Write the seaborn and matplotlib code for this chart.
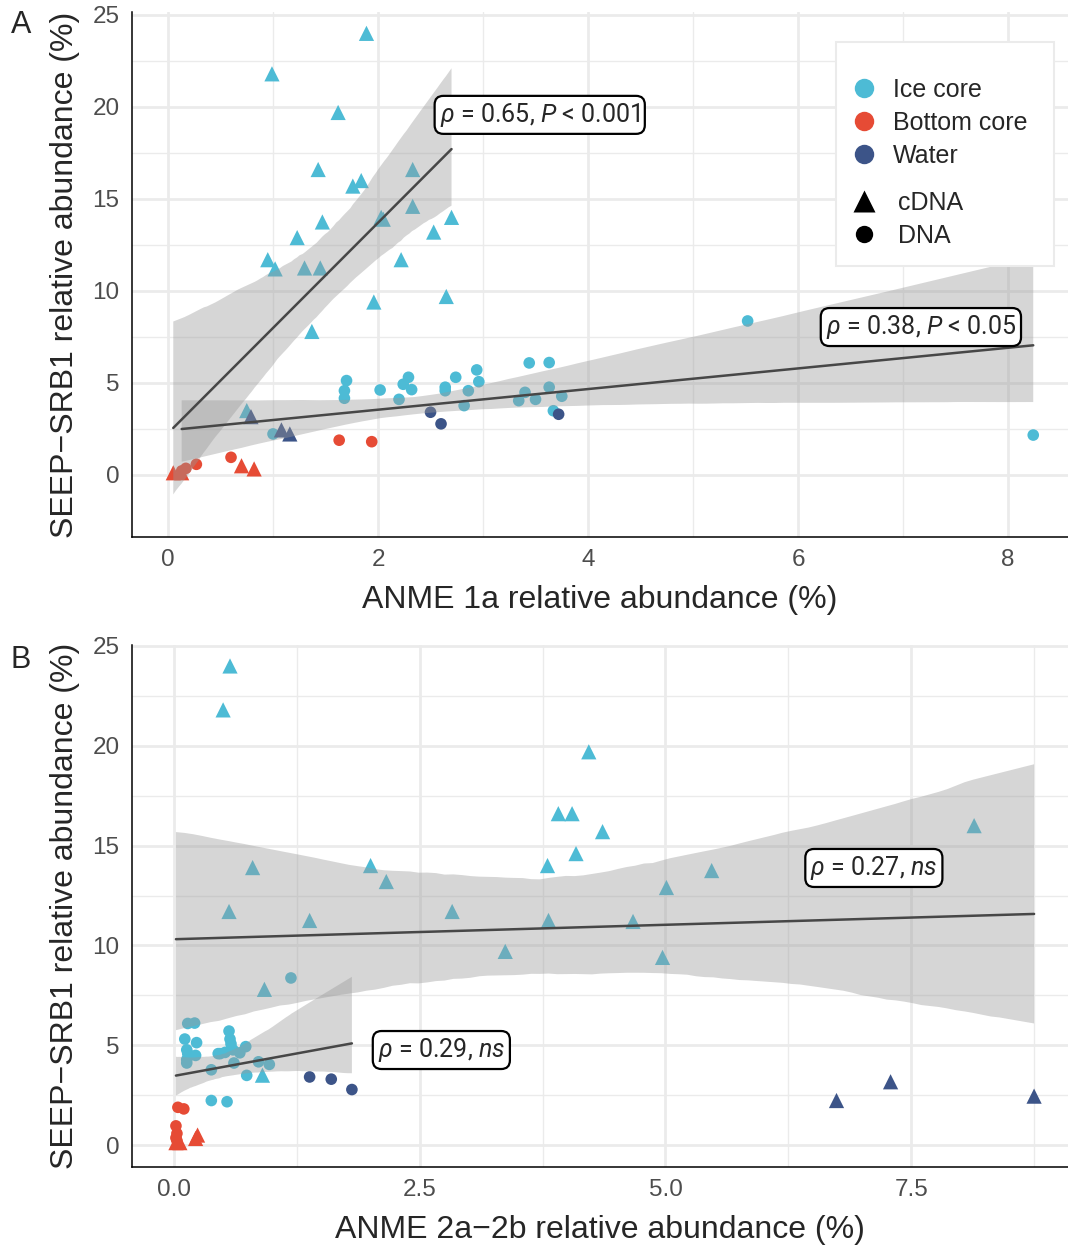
import matplotlib
matplotlib.use('Agg')
import matplotlib.pyplot as plt
from matplotlib.lines import Line2D
from matplotlib.patches import FancyBboxPatch
import numpy as np
import pandas as pd
import seaborn as sns

# ---- data: SEEP-SRB1 vs ANME 1a / ANME 2a-2b (relative abundance, %) ----
ice_cdna_anme1a = [1.89, 0.99, 1.62, 1.43, 2.33, 1.84, 1.76, 2.33, 2.70, 2.03, 2.05, 1.47,
                   2.53, 1.23, 0.95, 2.22, 1.30, 1.45, 1.02, 2.65, 1.96, 1.37, 0.75]
ice_cdna_anme2ab = [0.57, 0.50, 4.22, 3.91, 4.05, 8.14, 4.36, 4.09, 3.80, 2.00, 0.80, 5.47,
                    2.16, 5.01, 0.56, 2.83, 1.38, 3.81, 4.67, 3.37, 4.97, 0.92, 0.90]
ice_cdna_srb = [24.0, 21.8, 19.7, 16.6, 16.6, 16.0, 15.7, 14.6, 14.0, 14.0, 13.9, 13.75,
                13.2, 12.9, 11.7, 11.7, 11.25, 11.25, 11.2, 9.7, 9.4, 7.8, 3.5]

ice_dna_anme1a = [5.52, 3.63, 3.44, 2.94, 2.29, 2.74, 1.70, 2.96, 2.24, 2.64, 3.63, 2.32, 2.02,
                  1.68, 2.64, 2.86, 3.40, 3.75, 1.68, 2.20, 3.50, 3.34, 2.82, 3.67, 1.00, 8.24]
ice_dna_anme2ab = [1.19, 0.21, 0.14, 0.56, 0.11, 0.57, 0.23, 0.58, 0.73, 0.13, 0.60, 0.52, 0.67,
                   0.45, 0.47, 0.14, 0.22, 0.13, 0.86, 0.13, 0.61, 0.97, 0.38, 0.74, 0.38, 0.54]
ice_dna_srb = [8.37, 6.11, 6.09, 5.71, 5.31, 5.31, 5.13, 5.07, 4.93, 4.77, 4.77, 4.64, 4.62,
               4.58, 4.58, 4.58, 4.49, 4.28, 4.17, 4.11, 4.11, 4.04, 3.77, 3.49, 2.23, 2.17]

bottom_cdna_anme1a = [0.05, 0.13, 0.70, 0.82]
bottom_cdna_anme2ab = [0.02, 0.06, 0.24, 0.22]
bottom_cdna_srb = [0.12, 0.12, 0.50, 0.33]

bottom_dna_anme1a = [1.63, 1.94, 0.60, 0.27, 0.17, 0.13]
bottom_dna_anme2ab = [0.04, 0.10, 0.02, 0.03, 0.02, 0.03]
bottom_dna_srb = [1.89, 1.81, 0.96, 0.58, 0.36, 0.22]

water_cdna_anme1a = [0.79, 1.08, 1.16]
water_cdna_anme2ab = [7.29, 8.75, 6.74]
water_cdna_srb = [3.17, 2.45, 2.23]

water_dna_anme1a = [2.50, 3.72, 2.60]
water_dna_anme2ab = [1.38, 1.60, 1.81]
water_dna_srb = [3.41, 3.30, 2.78]

sources = ['Ice core', 'Bottom core', 'Water']
types = ['cDNA', 'DNA']
palette = {'Ice core': '#4DBBD5', 'Bottom core': '#E64B35', 'Water': '#3C5488'}

labels_a = [r'$\rho$ = 0.65, $P$ < 0.001', r'$\rho$ = 0.38, $P$ < 0.05']
labels_b = [r'$\rho$ = 0.27, $ns$', r'$\rho$ = 0.29, $ns$']


def block(src, typ, a, b, s):
    return pd.DataFrame({'source': src, 'type': typ, 'anme1a': a, 'anme2ab': b, 'srb': s})


df = pd.concat([
    block('Ice core', 'cDNA', ice_cdna_anme1a, ice_cdna_anme2ab, ice_cdna_srb),
    block('Ice core', 'DNA', ice_dna_anme1a, ice_dna_anme2ab, ice_dna_srb),
    block('Bottom core', 'cDNA', bottom_cdna_anme1a, bottom_cdna_anme2ab, bottom_cdna_srb),
    block('Bottom core', 'DNA', bottom_dna_anme1a, bottom_dna_anme2ab, bottom_dna_srb),
    block('Water', 'cDNA', water_cdna_anme1a, water_cdna_anme2ab, water_cdna_srb),
    block('Water', 'DNA', water_dna_anme1a, water_dna_anme2ab, water_dna_srb),
], ignore_index=True)

sns.set_style('white')
plt.rcParams['font.family'] = ['Liberation Sans', 'DejaVu Sans']
plt.rcParams['mathtext.fontset'] = 'custom'
plt.rcParams['mathtext.rm'] = 'Roboto'
plt.rcParams['mathtext.it'] = 'Roboto:italic'

W, H = 1068, 1247
fig = plt.figure(figsize=(W / 100, H / 100), dpi=100)
ax_a = fig.add_axes([132 / W, 1 - 537 / H, 936 / W, 525 / H])
ax_b = fig.add_axes([132 / W, 1 - 1167 / H, 936 / W, 522 / H])


def add_fit(ax, data, x):
    n = len(ax.collections)
    sns.regplot(data=data, x=x, y='srb', ax=ax, scatter=False, ci=95, seed=1,
                color='#474747', line_kws={'lw': 1.8})
    for c in ax.collections[n:]:
        c.set_facecolor('#999999')
        c.set_alpha(0.4)
        c.set_edgecolor('none')


def panel(ax, x, xlim, ylim, major, minor, xlabel, labels, label_pos):
    sns.scatterplot(data=df, x=x, y='srb', hue='source', style='type', size='type',
                    hue_order=sources, style_order=types, palette=palette,
                    markers={'cDNA': '^', 'DNA': 'o'}, sizes={'cDNA': 120, 'DNA': 70},
                    linewidth=0, legend=False, ax=ax)
    for t in types:
        add_fit(ax, df[df['type'] == t], x)
    for lab, (lx, ly) in zip(labels, label_pos):
        ax.text(lx, ly, lab, ha='center', va='center', fontsize=18, family='Roboto',
                bbox=dict(boxstyle='round,pad=0.2,rounding_size=0.35', fc='white',
                          ec='black', lw=1.6))
    ax.set_xlim(*xlim)
    ax.set_ylim(*ylim)
    ax.set_xticks(major)
    ax.set_xticks(minor, minor=True)
    ax.set_yticks([0, 5, 10, 15, 20, 25])
    ax.set_yticks([2.5, 7.5, 12.5, 17.5, 22.5], minor=True)
    ax.set_axisbelow(True)
    ax.grid(which='major', color='#EBEBEB', lw=2.0)
    ax.grid(which='minor', color='#EBEBEB', lw=1.0)
    for s in ['top', 'right']:
        ax.spines[s].set_visible(False)
    for s in ['left', 'bottom']:
        ax.spines[s].set_color('black')
        ax.spines[s].set_linewidth(1.1)
    ax.tick_params(which='major', length=4.5, width=1, color='#333333',
                   labelsize=17.5, labelcolor='#4D4D4D', pad=4.5)
    ax.tick_params(which='minor', length=0)
    ax.set_xlabel(xlabel, fontsize=23, labelpad=10)
    ax.set_ylabel('SEEP\u2212SRB1 relative abundance (%)', fontsize=23, labelpad=9)


panel(ax_a, 'anme1a', (-0.343, 8.571), (-3.37, 25.16), [0, 2, 4, 6, 8], [1, 3, 5, 7],
      'ANME 1a relative abundance (%)', labels_a, [(3.54, 19.57), (7.17, 8.04)])
panel(ax_b, 'anme2ab', (-0.427, 9.095), (-1.10, 25.05), [0, 2.5, 5, 7.5],
      [1.25, 3.75, 6.25, 8.75], 'ANME 2a\u22122b relative abundance (%)', labels_b,
      [(7.12, 13.88), (2.72, 4.76)])
ax_b.set_xticklabels(['0.0', '2.5', '5.0', '7.5'])

fig.text(11 / W, 1 - 25 / H, 'A', fontsize=22, va='center', ha='left')
fig.text(11 / W, 1 - 660 / H, 'B', fontsize=22, va='center', ha='left')

# legend box and entries
box = FancyBboxPatch((836 / W, 1 - 266 / H), 218 / W, 224 / H, boxstyle='square,pad=0',
                     transform=fig.transFigure, fc='white', ec='#EBEBEB', lw=1.5, zorder=5)
fig.patches.append(box)
h_src = [Line2D([], [], ls='', marker='o', ms=14, mfc=palette[s], mec='none') for s in sources]
h_typ = [Line2D([], [], ls='', marker='^', ms=16, color='black', mec='none'),
         Line2D([], [], ls='', marker='o', ms=12.5, color='black', mec='none')]
leg1 = fig.legend(h_src, sources, loc='upper left', bbox_to_anchor=(849 / W, 1 - 78 / H),
                  frameon=False, fontsize=18, handletextpad=0.55, labelspacing=0.36,
                  borderpad=0, borderaxespad=0, handlelength=1.2)
leg2 = fig.legend(h_typ, types, loc='upper left', bbox_to_anchor=(849 / W, 1 - 191 / H),
                  frameon=False, fontsize=18, handletextpad=0.75, labelspacing=0.36,
                  borderpad=0, borderaxespad=0, handlelength=1.2)
leg1.set_zorder(6)
leg2.set_zorder(6)

fig.savefig('out.png', dpi=100)
